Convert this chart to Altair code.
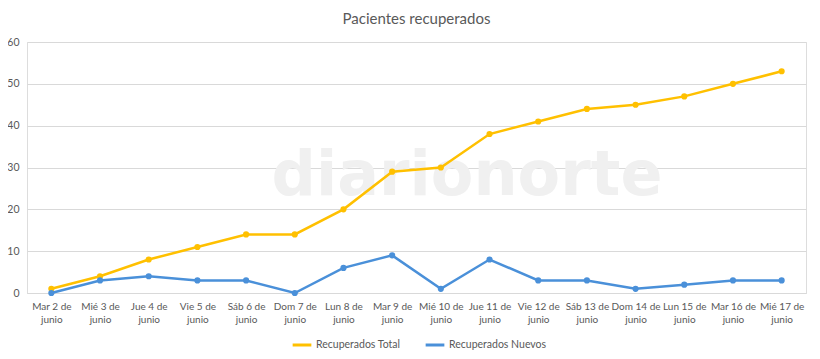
import altair as alt
import pandas as pd

dias = ["Mar 2 de junio", "Mié 3 de junio", "Jue 4 de junio", "Vie 5 de junio",
        "Sáb 6 de junio", "Dom 7 de junio", "Lun 8 de junio", "Mar 9 de junio",
        "Mié 10 de junio", "Jue 11 de junio", "Vie 12 de junio", "Sáb 13 de junio",
        "Dom 14 de junio", "Lun 15 de junio", "Mar 16 de junio", "Mié 17 de junio"]
recuperados_total = [1, 4, 8, 11, 14, 14, 20, 29, 30, 38, 41, 44, 45, 47, 50, 53]
recuperados_nuevos = [0, 3, 4, 3, 3, 0, 6, 9, 1, 8, 3, 3, 1, 2, 3, 3]
series = ["Recuperados Total", "Recuperados Nuevos"]
colores = ["#FFC000", "#4A90D9"]

rows = []
for d, t, n in zip(dias, recuperados_total, recuperados_nuevos):
    rows.append({"dia": d, "serie": series[0], "valor": t})
    rows.append({"dia": d, "serie": series[1], "valor": n})
df = pd.DataFrame(rows)

FONT = "Lato"
GREY = "#595959"

x = alt.X("dia:N", sort=dias, title=None,
          scale=alt.Scale(paddingInner=0, paddingOuter=0),
          axis=alt.Axis(labelAngle=0, ticks=False, domainColor="#D9D9D9",
                        labelExpr="[replace(datum.label, ' junio', ''), 'junio']",
                        labelColor=GREY, labelFont=FONT, labelFontSize=10,
                        labelPadding=8, labelLineHeight=13))
y = alt.Y("valor:Q", title=None,
          scale=alt.Scale(domain=[0, 60]),
          axis=alt.Axis(values=[0, 10, 20, 30, 40, 50, 60], ticks=False, domain=False,
                        gridColor="#D9D9D9", labelColor=GREY, labelFont=FONT,
                        labelFontSize=10.5, labelPadding=8))
color = alt.Color("serie:N", sort=series, title=None,
                  scale=alt.Scale(domain=series, range=colores),
                  legend=alt.Legend(orient="none", legendX=264, legendY=292,
                                    direction="horizontal",
                                    symbolType="stroke", symbolStrokeWidth=3,
                                    symbolSize=350, labelFont=FONT, labelFontSize=10.5,
                                    labelColor=GREY, columnPadding=18, labelOffset=3))

watermark = alt.Chart(pd.DataFrame({"t": ["diarionorte"]})).mark_text(
    font="DejaVu Sans", fontSize=62, fontWeight="bold", color="#F0F0F0",
    align="center", baseline="middle"
).encode(x=alt.value(440), y=alt.value(134), text="t:N")

lines = alt.Chart(df).mark_line(strokeWidth=2.5, point=alt.OverlayMarkDef(size=38, filled=True, opacity=1)).encode(
    x=x, y=y, color=color
)

chart = alt.layer(watermark, lines).properties(
    width=779, height=251,
    autosize=alt.AutoSizeParams(type="none"),
    padding={"left": 19, "top": 34, "right": 6, "bottom": 58},
    title=alt.TitleParams("Pacientes recuperados", font=FONT, fontSize=15,
                          fontWeight="normal", color=GREY, offset=10, anchor="middle"),
).configure_view(stroke=None).configure(background="white")

chart.save("out.html", embed_options={"renderer": "svg", "actions": False})
